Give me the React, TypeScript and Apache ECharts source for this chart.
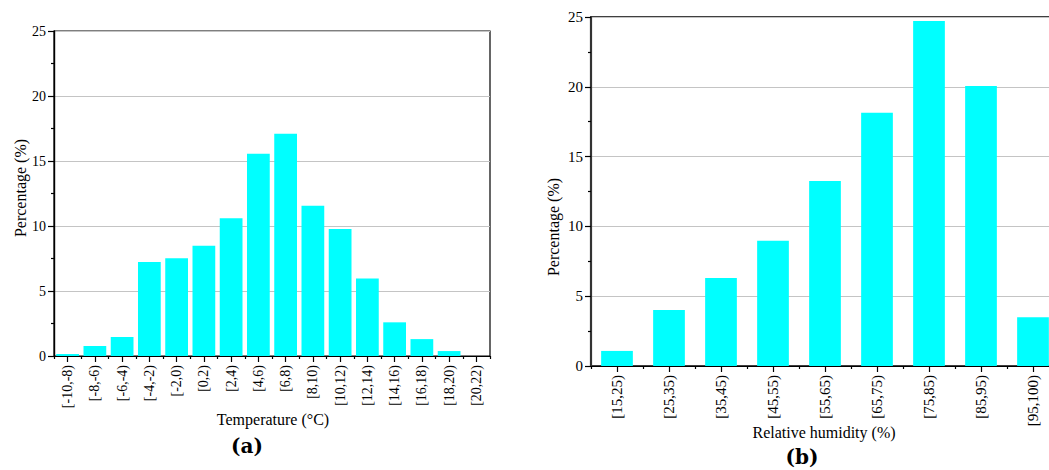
import React, { useEffect, useRef } from "react";
import * as echarts from "echarts";

const tempCategories = [
  "[-10,-8)", "[-8,-6)", "[-6,-4)", "[-4,-2)", "[-2,0)", "[0,2)", "[2,4)", "[4,6)",
  "[6,8)", "[8,10)", "[10,12)", "[12,14)", "[14,16)", "[16,18)", "[18,20)", "[20,22)",
];
const tempValues = [0.15, 0.77, 1.46, 7.23, 7.51, 8.49, 10.6, 15.56, 17.1, 11.56, 9.77, 5.97, 2.59, 1.3, 0.38, 0];

const humCategories = ["[15,25)", "[25,35)", "[35,45)", "[45,55)", "[55,65)", "[65,75)", "[75,85)", "[85,95)", "[95,100)"];
const humValues = [1.08, 4.01, 6.31, 8.98, 13.26, 18.14, 24.71, 20.05, 3.49];

const yMin = 0;
const yMax = 25;
const yInterval = 5;

const SERIF = "'Liberation Serif', 'Times New Roman', serif";
const BAR_COLOR = "#00FFFF";
const GRID_COLOR = "#c4c4c4";

function catAxes(gridIndex: number, data: string[], fontSize: number) {
  return [
    {
      gridIndex,
      type: "category",
      data,
      position: "bottom",
      axisLine: { show: true, lineStyle: { color: "#000", width: 1.2 } },
      axisTick: { show: true, alignWithLabel: true, interval: 0, length: 6, lineStyle: { color: "#000", width: 1.2 } },
      axisLabel: { rotate: 90, interval: 0, margin: 9, fontFamily: SERIF, fontSize, color: "#000" },
      splitLine: { show: false },
    },
    {
      gridIndex,
      type: "category",
      data,
      position: "bottom",
      axisLine: { show: false },
      axisTick: { show: true, interval: 0, length: 3, lineStyle: { color: "#000", width: 1.2 } },
      axisLabel: { show: false },
      splitLine: { show: false },
    },
  ];
}

function valAxis(gridIndex: number, fontSize: number, lineColor: string, lineWidth: number) {
  return {
    gridIndex,
    type: "value",
    min: yMin,
    max: yMax,
    interval: yInterval,
    axisLine: { show: true, lineStyle: { color: lineColor, width: lineWidth } },
    axisTick: { show: true, length: 6, lineStyle: { color: "#000", width: 1.2 } },
    minorTick: { show: true, splitNumber: 2, length: 3, lineStyle: { color: "#000", width: 1.2 } },
    splitLine: { show: true, lineStyle: { color: GRID_COLOR, width: 1.2 } },
    axisLabel: { fontFamily: SERIF, fontSize, color: "#000", margin: 8 },
  };
}

export default function App() {
  const ref = useRef<HTMLDivElement>(null);
  useEffect(() => {
    if (!ref.current) return;
    const chart = echarts.init(ref.current, null, { renderer: "svg" });
    chart.setOption({
      animation: false,
      backgroundColor: "#fff",
      grid: [
        { left: 54, top: 31, width: 436, height: 325, show: true, borderColor: "#000", borderWidth: 1.2, backgroundColor: "transparent", containLabel: false, outerBoundsMode: "none" },
        { left: 591, top: 17, width: 468, height: 349, show: true, borderColor: "#000", borderWidth: 1.6, backgroundColor: "transparent", containLabel: false, outerBoundsMode: "none" },
      ],
      xAxis: [...catAxes(0, tempCategories, 14), ...catAxes(1, humCategories, 15)],
      yAxis: [valAxis(0, 14, "#000", 1.4), valAxis(1, 15, "#333", 2.2)],
      series: [
        {
          type: "bar",
          xAxisIndex: 0,
          yAxisIndex: 0,
          data: tempValues,
          barCategoryGap: "16.5%",
          itemStyle: { color: BAR_COLOR },
        },
        {
          type: "bar",
          xAxisIndex: 2,
          yAxisIndex: 1,
          data: humValues,
          barCategoryGap: "39%",
          itemStyle: { color: BAR_COLOR },
        },
      ],
      graphic: [
        {
          type: "text",
          x: 20,
          y: 188,
          rotation: Math.PI / 2,
          style: { text: "Percentage (%)", font: `16px ${SERIF}`, fill: "#000", align: "center", verticalAlign: "middle" },
        },
        {
          type: "text",
          x: 553,
          y: 227,
          rotation: Math.PI / 2,
          style: { text: "Percentage (%)", font: `16px ${SERIF}`, fill: "#000", align: "center", verticalAlign: "middle" },
        },
        {
          type: "text",
          x: 273,
          y: 419,
          style: { text: "Temperature (°C)", font: `16px ${SERIF}`, fill: "#000", align: "center", verticalAlign: "middle" },
        },
        {
          type: "text",
          x: 824,
          y: 432,
          style: { text: "Relative humidity (%)", font: `16px ${SERIF}`, fill: "#000", align: "center", verticalAlign: "middle" },
        },
        {
          type: "text",
          x: 247,
          y: 446,
          style: { text: "(a)", font: `bold 20px 'DejaVu Serif', ${SERIF}`, fill: "#000", align: "center", verticalAlign: "middle" },
        },
        {
          type: "text",
          x: 802,
          y: 457,
          style: { text: "(b)", font: `bold 20px 'DejaVu Serif', ${SERIF}`, fill: "#000", align: "center", verticalAlign: "middle" },
        },
      ],
    });
    return () => chart.dispose();
  }, []);
  return <div ref={ref} style={{ position: "fixed", left: 0, top: 0, width: 1049, height: 470 }} />;
}
